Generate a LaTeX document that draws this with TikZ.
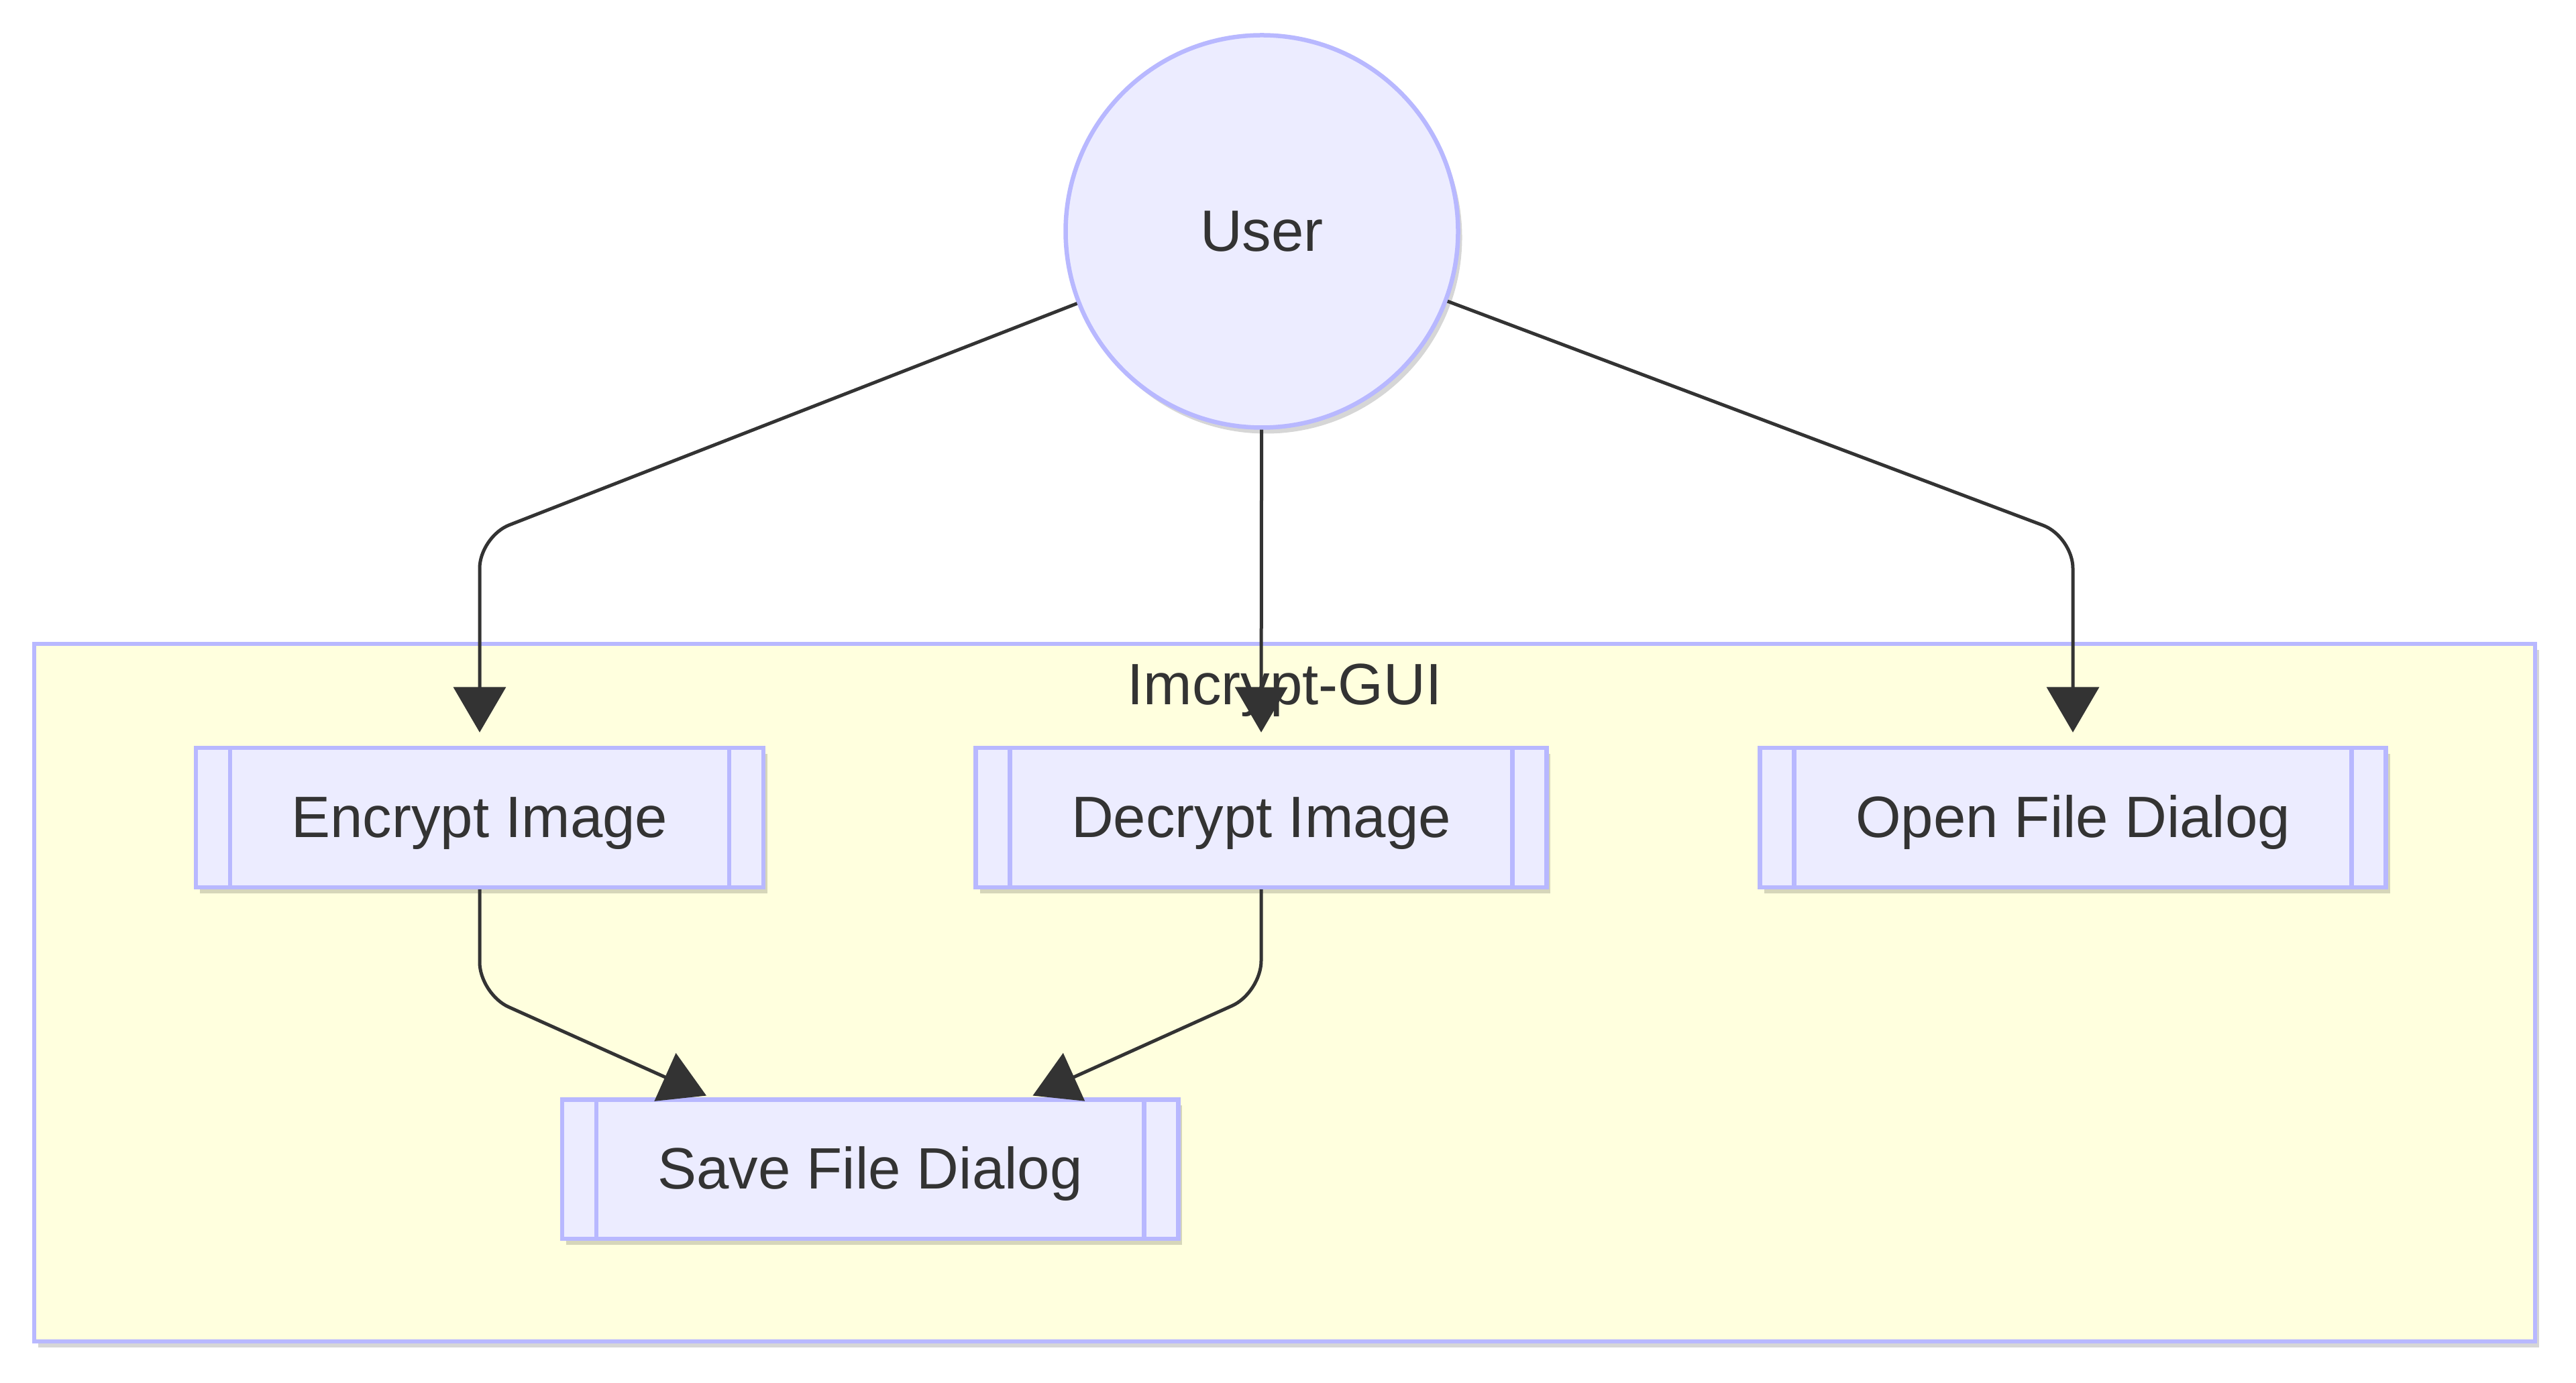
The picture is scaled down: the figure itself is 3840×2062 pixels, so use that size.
\documentclass[tikz,border=0pt]{standalone}
\usepackage{fontspec}
\setmainfont{Liberation Sans}
\usetikzlibrary{arrows.meta,shadows}
\definecolor{nodefill}{HTML}{ECECFF}
\definecolor{nodeline}{HTML}{B8B8FF}
\definecolor{groupfill}{HTML}{FFFFDE}
\definecolor{ink}{HTML}{333333}
\tikzset{
  softshadow/.style={drop shadow={shadow xshift=1.2pt,shadow yshift=-1.8pt,opacity=0.16,fill=black}},
  actor/.style={circle,fill=nodefill,draw=nodeline,line width=1.3pt,minimum size=117pt,text=ink,softshadow},
  subproc/.style={rectangle,fill=nodefill,draw=nodeline,line width=1.3pt,minimum height=41.5pt,inner xsep=28.5pt,
    text height=15.5pt,text depth=3.7pt,text=ink,softshadow,
    path picture={\draw[nodeline,line width=1.3pt]
      ([xshift=10.2pt]path picture bounding box.north west) -- ([xshift=10.2pt]path picture bounding box.south west)
      ([xshift=-10.2pt]path picture bounding box.north east) -- ([xshift=-10.2pt]path picture bounding box.south east);}},
  group/.style={rectangle,fill=groupfill,draw=nodeline,line width=1.3pt,minimum width=745.5pt,minimum height=208pt,softshadow},
  flow/.style={draw=ink,line width=1pt,-{Triangle[length=13.5pt,width=15.5pt]},rounded corners=9.5pt}
}
\begin{document}
\begin{tikzpicture}[x=0.2pt,y=-0.2pt,font=\fontsize{17.4pt}{21pt}\selectfont]
  \useasboundingbox (0,0) rectangle (3840,2062);

  % Gruppe
  \node[group] (gui) at (1915,1480) {};
  \node[text=ink,text height=15.5pt,text depth=3.7pt] (gui-title) at (1915,1021) {Imcrypt-GUI};

  % Knoten
  \node[actor] (user) at (1881,345) {User};
  \node[subproc] (enc) at (715,1219) {Encrypt Image};
  \node[subproc] (dec) at (1880,1219) {Decrypt Image};
  \node[subproc] (open) at (3090,1219) {Open File Dialog};
  \node[subproc] (save) at (1297,1743) {Save File Dialog};

  % Knickpunkte
  \coordinate (c-enc) at (715,800);
  \coordinate (c-open) at (3090,800);
  \coordinate (c-es) at (715,1482);
  \coordinate (c-ds) at (1880,1480);

  % Pfeile
  \draw[flow,shorten >=4pt] (user) -- (c-enc) -- (enc.north);
  \draw[flow,shorten >=4pt] (user) -- (dec.north);
  \draw[flow,shorten >=4pt] (user) -- (c-open) -- (open.north);
  \draw[flow,shorten >=1.2pt] (enc.south) -- (c-es) -- (save);
  \draw[flow,shorten >=1.2pt] (dec.south) -- (c-ds) -- (save);
\end{tikzpicture}
\end{document}
